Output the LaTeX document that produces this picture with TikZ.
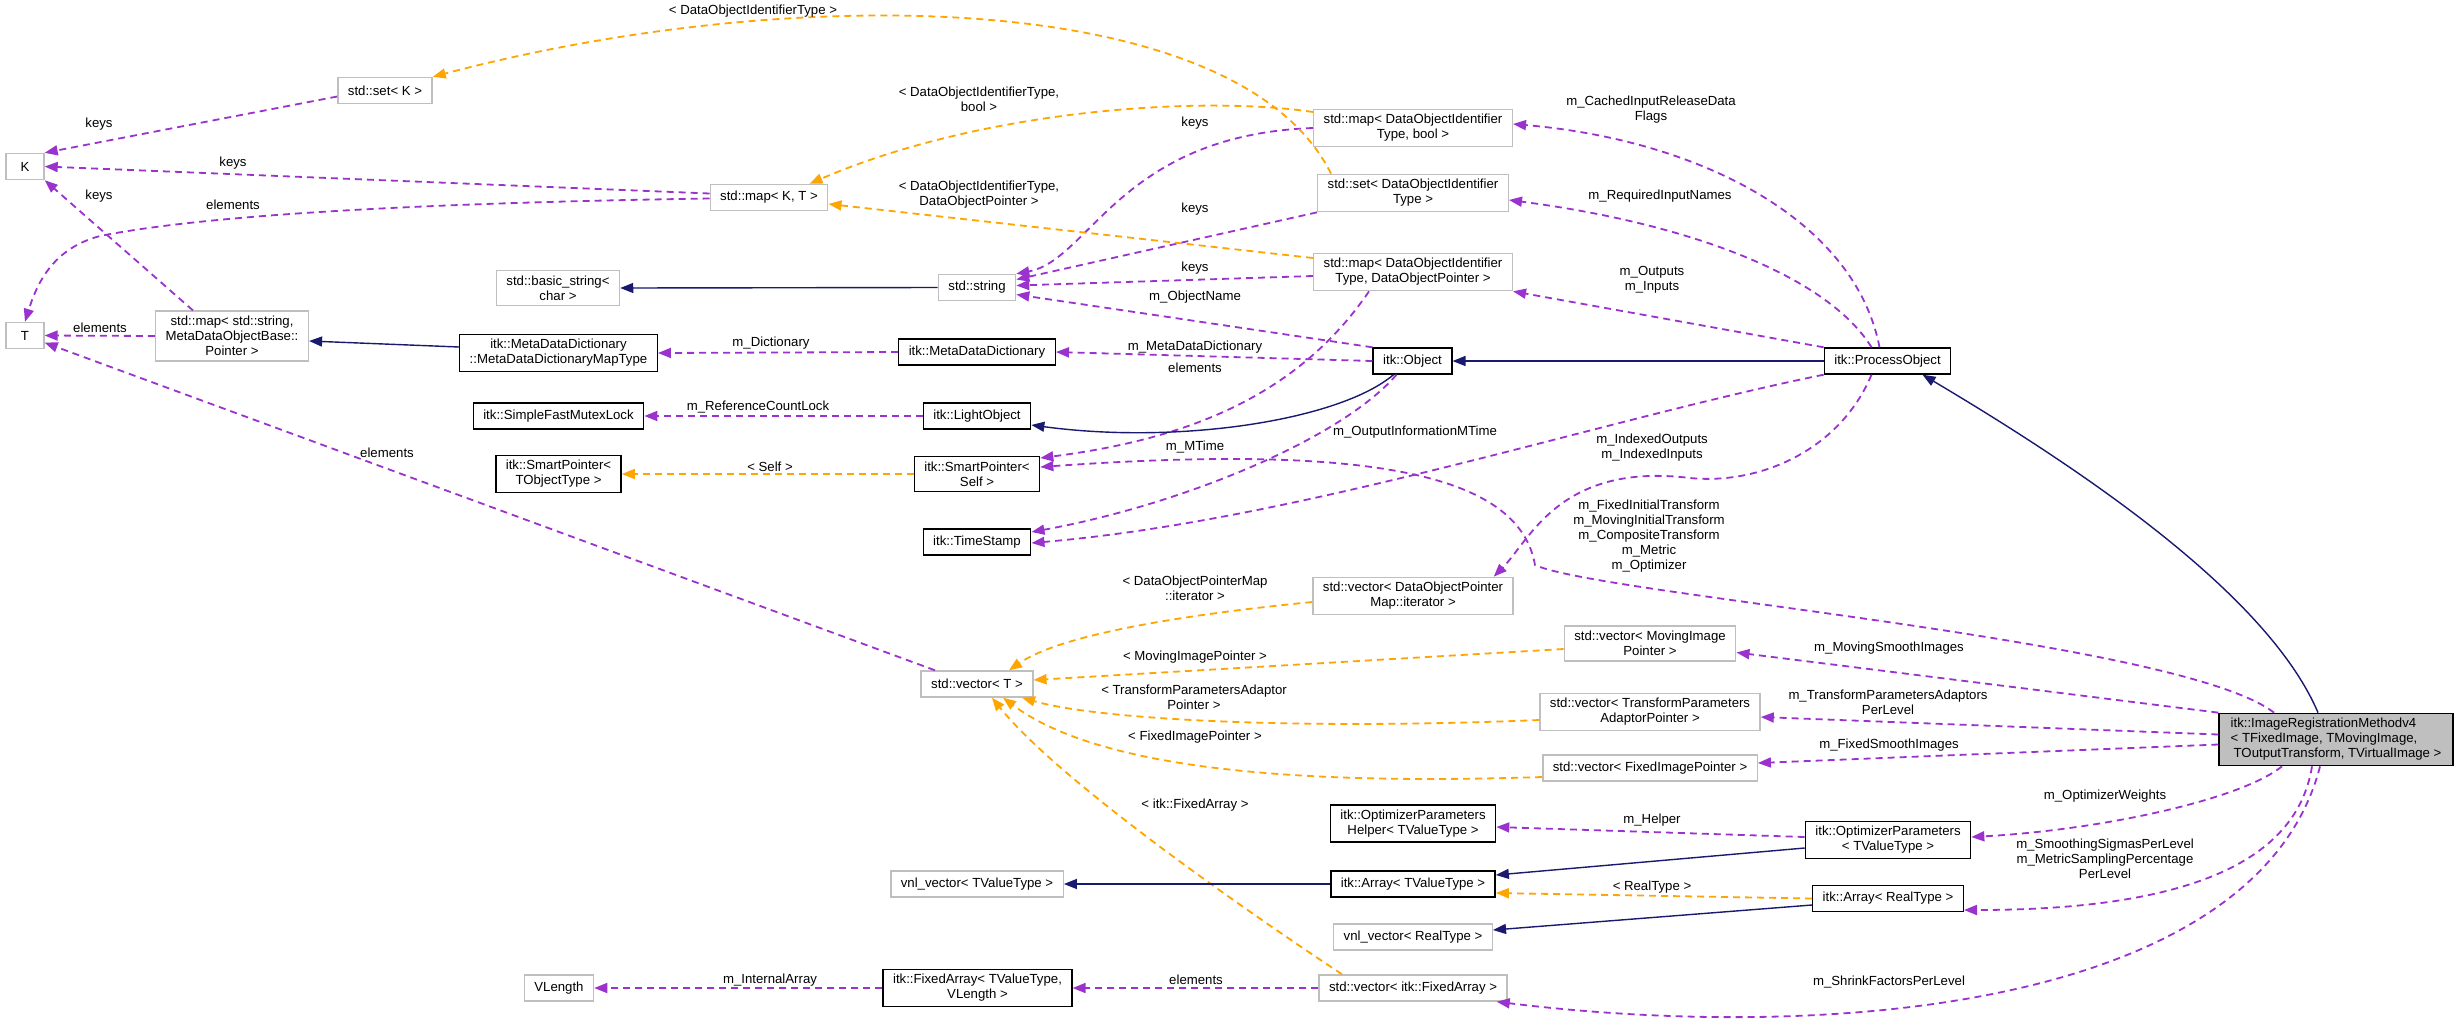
\documentclass[tikz,border=0pt]{standalone}
\usepackage{fontspec}
\setmainfont{Liberation Sans}
\usepackage{tikz}
\usetikzlibrary{arrows.meta}

\definecolor{usecol}{HTML}{9A32CD}
\definecolor{tplcol}{HTML}{FFA500}
\definecolor{inhcol}{HTML}{191970}
\definecolor{extgray}{HTML}{BFBFBF}

\tikzset{
  cls/.style={draw=black, line width=1.4pt, fill=white, font=\fontsize{13.2}{15}\selectfont,
    align=center, inner xsep=10pt, inner ysep=5pt, minimum height=26pt, minimum width=38pt},
  ext/.style={cls, draw=extgray},
  usedge/.style={->, usecol, line width=1.8pt, dash pattern=on 7pt off 5pt},
  tpledge/.style={usedge, tplcol},
  inhedge/.style={->, inhcol, line width=1.4pt},
  lbl/.style={font=\fontsize{13.2}{15}\selectfont, align=center, inner sep=0pt},
}

\begin{document}
\begin{tikzpicture}[>={Triangle[length=13pt,width=10pt]}, x=1pt, y=-1pt]
    \path[use as bounding box, fill=white] (0,0) rectangle (2459,1021);

    \node[ext] (setK) at (385,90.5) {std::set< K >};
    \node[ext] (K) at (25,166.5) {K};
    \node[ext] (mapKT) at (769,197.5) {std::map< K, T >};
    \node[ext] (T) at (25,335.5) {T};
    \node[ext] (mapMeta) at (232,336) {std::map< std::string,\\ MetaDataObjectBase::\\Pointer >};
    \node[ext] (basicStr) at (558,288) {std::basic\_string<\\char >};
    \node[cls] (dictMap) at (558.5,353) {itk::MetaDataDictionary\\::MetaDataDictionaryMapType};
    \node[cls] (mutex) at (558.5,416) {itk::SimpleFastMutexLock};
    \node[cls] (spT) at (558.5,474) {itk::SmartPointer<\\TObjectType >};
    \node[ext] (str) at (977,287.5) {std::string};
    \node[cls] (dict) at (977,352) {itk::MetaDataDictionary};
    \node[cls] (light) at (977,416) {itk::LightObject};
    \node[cls] (spSelf) at (977,474) {itk::SmartPointer<\\Self >};
    \node[cls] (tstamp) at (977,542) {itk::TimeStamp};
    \node[ext] (mapBool) at (1413,128) {std::map< DataObjectIdentifier\\Type, bool >};
    \node[ext] (setId) at (1413,193) {std::set< DataObjectIdentifier\\Type >};
    \node[ext] (mapPtr) at (1413,272) {std::map< DataObjectIdentifier\\Type, DataObjectPointer >};
    \node[cls] (obj) at (1412.5,361) {itk::Object};
    \node[cls] (proc) at (1887.5,361) {itk::ProcessObject};
    \node[ext] (vecIter) at (1413,596) {std::vector< DataObjectPointer\\Map::iterator >};
    \node[ext] (vecT) at (977,684) {std::vector< T >};
    \node[ext] (vecMoving) at (1650,643.5) {std::vector< MovingImage\\Pointer >};
    \node[ext] (vecAdaptor) at (1650,712) {std::vector< TransformParameters\\AdaptorPointer >};
    \node[ext] (vecFixed) at (1650,768) {std::vector< FixedImagePointer >};
    \node[cls] (helper) at (1413,823.5) {itk::OptimizerParameters\\Helper< TValueType >};
    \node[cls] (arrTV) at (1413,884) {itk::Array< TValueType >};
    \node[ext] (vnlTV) at (977,884) {vnl\_vector< TValueType >};
    \node[ext] (vnlReal) at (1413,937) {vnl\_vector< RealType >};
    \node[cls] (fixedArr) at (977.5,988) {itk::FixedArray< TValueType,\\VLength >};
    \node[ext] (vecFA) at (1413,988) {std::vector< itk::FixedArray >};
    \node[ext] (vlen) at (559,988) {VLength};
    \node[cls, fill=extgray, align=left, minimum width=234pt] (irm) at (2336,739.5)
        {itk::ImageRegistrationMethodv4\\< TFixedImage, TMovingImage,\\\hspace*{3pt}TOutputTransform, TVirtualImage >};
    \node[cls] (optParam) at (1888,840) {itk::OptimizerParameters\\< TValueType >};
    \node[cls] (arrReal) at (1888,898.5) {itk::Array< RealType >};

    \coordinate (elemBend) at (100,236);
    \coordinate (idxBend) at (1690,478);
    \coordinate (ptrBend) at (1535,565);

    \draw[usedge] ([yshift=-6pt]setK.west) -- (K.north east);
    \draw[usedge] ([yshift=4pt]mapKT.west) -- (K.east);
    \draw[usedge] ([xshift=-39pt]mapMeta.north) -- (K.south east);
    \draw[usedge] ([yshift=-1pt]mapKT.west) .. controls (350,204) and (180,220) .. (elemBend)
        .. controls (55,248) and (38,280) .. (T.north);
    \draw[usedge] (mapMeta.west) -- (T.east);
    \draw[usedge] ([xshift=-42pt]vecT.north) -- (T.-20);
    \foreach \a/\b in {dict/dictMap, light/mutex, vecFA/fixedArr, fixedArr/vlen}
        \draw[usedge] (\a.west) -- (\b.east);
    \draw[usedge] (obj.north west) -- ([yshift=-7pt]str.east);
    \draw[usedge] (obj.west) -- (dict.east);
    \draw[usedge] ([xshift=-16pt]obj.south) .. controls (1340,440) and (1180,505) .. ([yshift=10pt]tstamp.east);
    \draw[usedge] (mapBool.west) .. controls (1120,135) and (1090,260) .. (str.north east);
    \draw[usedge] (setId.south west) -- ([yshift=8pt]str.east);
    \draw[usedge] ([yshift=-4pt]mapPtr.west) -- ([yshift=2pt]str.east);
    \draw[usedge] ([xshift=-44pt]mapPtr.south) .. controls (1295,400) and (1180,440) .. ([yshift=16pt]spSelf.east);
    \draw[usedge] ([xshift=-8pt]proc.north) .. controls (1855,220) and (1700,140) .. ([yshift=4pt]mapBool.east);
    \draw[usedge] ([xshift=-16pt]proc.north) .. controls (1830,280) and (1700,225) .. ([yshift=-7pt]setId.east);
    \draw[usedge] (proc.north west) -- (mapPtr.south east);
    \draw[usedge] ([xshift=-16pt]proc.south) .. controls (1840,450) and (1760,485) .. (idxBend)
        .. controls (1560,462) and (1530,540) .. ([xshift=-20pt]vecIter.north east);
    \draw[usedge] (proc.south west) .. controls (1600,420) and (1300,520) .. ([yshift=-1pt]tstamp.east);
    \draw[usedge] ([xshift=-62pt]irm.north) .. controls (2180,640) and (1600,595) .. (ptrBend)
        .. controls (1520,480) and (1390,442) .. ([yshift=7pt]spSelf.east);
    \draw[usedge] (irm.north west) -- ([yshift=-9pt]vecMoving.east);
    \draw[usedge] ([yshift=5pt]irm.west) -- ([yshift=-5pt]vecAdaptor.east);
    \draw[usedge] ([yshift=-5pt]irm.west) -- ([yshift=5pt]vecFixed.east);
    \draw[usedge] ([xshift=-54pt]irm.south) .. controls (2240,800) and (2100,830) .. ([yshift=3pt]optParam.east);
    \draw[usedge] ([xshift=-24pt]irm.south) .. controls (2300,840) and (2230,910) .. ([yshift=-11.5pt]arrReal.east);
    \draw[usedge] ([xshift=-16pt]irm.south) .. controls (2260,1000) and (1850,1045) .. ([xshift=-11pt]vecFA.south east);
    \draw[usedge] ([yshift=3pt]optParam.west) -- ([yshift=-3.5pt]helper.east);

    \draw[tpledge] ([yshift=16pt]mapBool.west) .. controls (1200,95) and (980,110) .. ([xshift=-19pt]mapKT.north east);
    \draw[tpledge] ([yshift=14pt]mapPtr.west) -- ([yshift=-6.5pt]mapKT.east);
    \draw[tpledge] ([xshift=-82pt]setId.north) .. controls (1240,-10) and (800,-20) .. (setK.north east);
    \draw[tpledge] (spSelf.west) -- (spT.east);
    \draw[tpledge] ([yshift=-6pt]vecIter.west) .. controls (1180,615) and (1060,635) .. ([xshift=32pt]vecT.north);
    \draw[tpledge] ([yshift=-5.5pt]vecMoving.west) -- ([yshift=4pt]vecT.east);
    \draw[tpledge] ([yshift=-8pt]vecAdaptor.west) .. controls (1300,730) and (1100,720) .. ([xshift=45pt]vecT.south);
    \draw[tpledge] ([yshift=-9pt]vecFixed.west) .. controls (1300,785) and (1100,770) .. ([xshift=26pt]vecT.south);
    \draw[tpledge] ([xshift=-71pt]vecFA.north) .. controls (1200,880) and (1050,770) .. ([xshift=15pt]vecT.south);
    \draw[tpledge] (arrReal.west) -- ([yshift=-9pt]arrTV.east);

    \draw[inhedge] (str.west) -- (basicStr.east);
    \draw[inhedge] ([yshift=6pt]dictMap.west) -- ([yshift=-5pt]mapMeta.east);
    \draw[inhedge] ([xshift=-19pt]obj.south) .. controls (1340,420) and (1180,445) .. ([yshift=-9pt]light.east);
    \draw[inhedge] (proc.west) -- (obj.east);
    \draw[inhedge] ([xshift=-18pt]irm.north) .. controls (2270,600) and (2100,480) .. ([xshift=35pt]proc.south);
    \draw[inhedge] ([yshift=-8pt]optParam.west) -- ([yshift=9pt]arrTV.east);
    \draw[inhedge] ([yshift=-6.5pt]arrReal.west) -- ([yshift=7pt]vnlReal.east);
    \draw[inhedge] (arrTV.west) -- (vnlTV.east);

    \foreach \n/\x/\y/\t in {lbKeysSet/99/124/keys, lbKeysMap/233/163/keys, lbKeysMeta/99/196/keys,
        lbElemMap/233/205/elements, lbElemMeta/100/328/elements, lbElemVec/387/453/elements,
        lbKeys1/1195/123/keys, lbKeys2/1195/209/keys, lbKeys3/1195/268/keys,
        lbElemPtr/1195/368/elements, lbElemFA/1196/980/elements}
        \node[lbl] (\n) at (\x,\y) {\t};
    \node[lbl] (lbDOIT) at (753,11) {< DataObjectIdentifierType >};
    \node[lbl] (lbDict) at (771,343) {m\_Dictionary};
    \node[lbl] (lbLock) at (758,407) {m\_ReferenceCountLock};
    \node[lbl] (lbSelf) at (770,467) {< Self >};
    \node[lbl] (lbBool) at (979,99.5) {< DataObjectIdentifierType,\\bool >};
    \node[lbl] (lbPtrT) at (979,195) {< DataObjectIdentifierType,\\DataObjectPointer >};
    \node[lbl] (lbName) at (1195,297) {m\_ObjectName};
    \node[lbl] (lbMeta) at (1195,347) {m\_MetaDataDictionary};
    \node[lbl] (lbMTime) at (1195,447) {m\_MTime};
    \node[lbl] (lbOutInfo) at (1415,432) {m\_OutputInformationMTime};
    \node[lbl] (lbCached) at (1651,110) {m\_CachedInputReleaseData\\Flags};
    \node[lbl] (lbReq) at (1660,196) {m\_RequiredInputNames};
    \node[lbl] (lbIO) at (1652,279.5) {m\_Outputs\\m\_Inputs};
    \node[lbl] (lbIdx) at (1652,448) {m\_IndexedOutputs\\m\_IndexedInputs};
    \node[lbl] (lbXform) at (1649,536) {m\_FixedInitialTransform\\m\_MovingInitialTransform\\m\_CompositeTransform\\m\_Metric\\m\_Optimizer};
    \node[lbl] (lbIter) at (1195,588) {< DataObjectPointerMap\\::iterator >};
    \node[lbl] (lbMoving) at (1195,657) {< MovingImagePointer >};
    \node[lbl] (lbAdaptor) at (1194,697.5) {< TransformParametersAdaptor\\Pointer >};
    \node[lbl] (lbFixedPtr) at (1195,737) {< FixedImagePointer >};
    \node[lbl] (lbFA) at (1195,805) {< itk::FixedArray >};
    \node[lbl] (lbMovSm) at (1889,648) {m\_MovingSmoothImages};
    \node[lbl] (lbAdLvl) at (1888,702) {m\_TransformParametersAdaptors\\PerLevel};
    \node[lbl] (lbFixSm) at (1889,745) {m\_FixedSmoothImages};
    \node[lbl] (lbWeights) at (2105,796) {m\_OptimizerWeights};
    \node[lbl] (lbHelper) at (1652,820) {m\_Helper};
    \node[lbl] (lbSigmas) at (2105,859) {m\_SmoothingSigmasPerLevel\\m\_MetricSamplingPercentage\\PerLevel};
    \node[lbl] (lbReal) at (1652,887) {< RealType >};
    \node[lbl] (lbShrink) at (1889,982) {m\_ShrinkFactorsPerLevel};
    \node[lbl] (lbInternal) at (770,980) {m\_InternalArray};
\end{tikzpicture}
\end{document}
